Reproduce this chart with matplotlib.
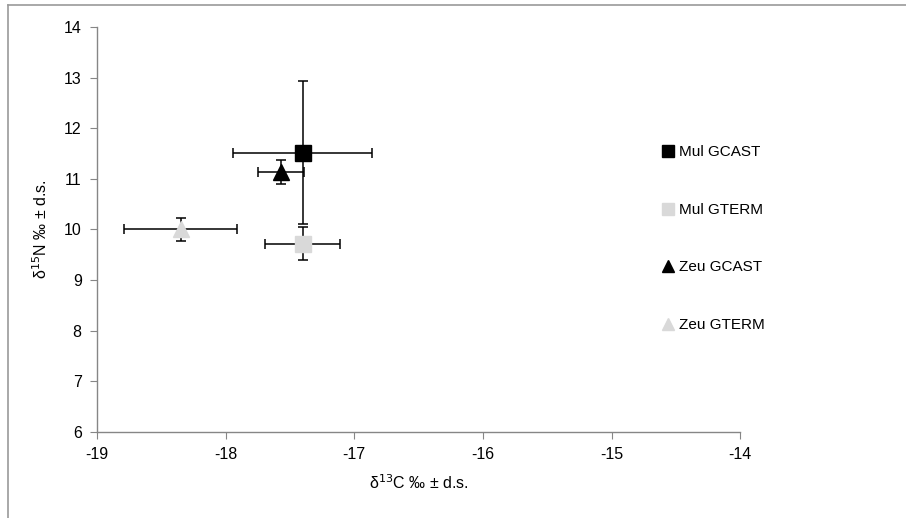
import matplotlib
matplotlib.use("Agg")
import matplotlib.pyplot as plt
from matplotlib.lines import Line2D

plt.rcParams['font.family'] = ['Liberation Sans Narrow', 'Liberation Sans', 'DejaVu Sans']
plt.rcParams['font.size'] = 11
plt.rcParams['axes.unicode_minus'] = False

labels = ["Mul GCAST", "Mul GTERM", "Zeu GCAST", "Zeu GTERM"]
d13c = [-17.40, -17.40, -17.57, -18.35]
d15n = [11.52, 9.72, 11.14, 10.00]
c_err = [0.54, 0.29, 0.18, 0.44]
n_err = [1.42, 0.33, 0.24, 0.22]
markers = ["s", "s", "^", "^"]
colors = ["black", "#d9d9d9", "black", "#d9d9d9"]

fig = plt.figure(figsize=(9.06, 5.18), dpi=100)
ax = fig.add_axes([0.107, 0.166, 0.710, 0.782])

for i in range(len(labels)):
    ax.errorbar(d13c[i], d15n[i], xerr=c_err[i], yerr=n_err[i], fmt="none",
                ecolor="black", elinewidth=1.1, capsize=3.5, capthick=1.1, zorder=2)
    ax.plot(d13c[i], d15n[i], marker=markers[i], color=colors[i], markersize=12,
            linestyle="none", label=labels[i], zorder=3)

ax.set_xlim(-19, -14)
ax.set_ylim(6, 14)
ax.set_xticks(range(-19, -13))
ax.set_yticks(range(6, 15))
for s in ["top", "right"]:
    ax.spines[s].set_visible(False)
for s in ["left", "bottom"]:
    ax.spines[s].set_color("#868686")
    ax.spines[s].set_linewidth(1.0)
ax.tick_params(direction="out", color="#868686", length=5, labelsize=11.5, pad=6)

ax.set_xlabel("δ$^{13}$C ‰ ± d.s.", fontsize=11.5, labelpad=8)
ax.set_ylabel("δ$^{15}$N ‰ ± d.s.", fontsize=11.5, labelpad=10)

handles = [Line2D([], [], marker=markers[i], color=colors[i], linestyle="none",
                  markersize=9) for i in range(len(labels))]
fig.legend(handles, labels, loc="upper left", bbox_to_anchor=(0.712, 0.746),
           frameon=False, labelspacing=2.85, handletextpad=0.1, handlelength=1.2,
           fontsize=11)

# outer chart border
fig.add_artist(Line2D([0.009, 0.009], [0, 0.991], color="#9a9a9a", lw=1.2))
fig.add_artist(Line2D([0.009, 1.0], [0.991, 0.991], color="#9a9a9a", lw=1.2))

fig.savefig("out.png", dpi=100)
